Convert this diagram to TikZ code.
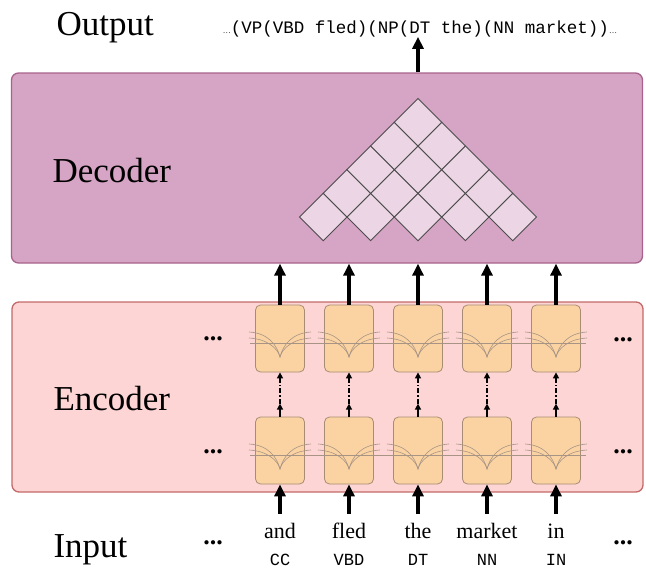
\documentclass[tikz,border=0pt]{standalone}
\usepackage{fontspec}
\setmainfont{Liberation Serif}
\setmonofont{Liberation Mono}
\usetikzlibrary{arrows.meta}

\definecolor{decfill}{HTML}{D6A4C4}
\definecolor{decline}{HTML}{A8628C}
\definecolor{encfill}{HTML}{FDD5D4}
\definecolor{encline}{HTML}{C46A6A}
\definecolor{cellfill}{HTML}{FBD3A2}
\definecolor{cellline}{HTML}{A88C74}
\definecolor{chartfill}{HTML}{ECD6E5}
\definecolor{wire}{HTML}{A89484}

\tikzset{
	block/.style={rounded corners=7pt, line width=1.3pt, minimum width=631pt, minimum height=190pt},
	cell/.style={draw=cellline, fill=cellfill, rounded corners=5pt, line width=0.8pt,
		minimum width=49pt, minimum height=67pt, inner sep=0pt},
	bigarr/.style={line width=3.5pt, -{Triangle[length=12pt,width=11pt]}},
	linkarr/.style={line width=1.8pt, -{Triangle[length=6pt,width=6pt]}},
	title/.style={font=\fontsize{35}{35}\selectfont, anchor=base west},
	word/.style={font=\fontsize{22}{22}\selectfont, anchor=base, text height=15pt, text depth=0pt, inner sep=2pt},
	tag/.style={font=\ttfamily\fontsize{17}{17}\selectfont, anchor=base},
	more/.style={font=\bfseries\fontsize{26}{26}\selectfont, inner sep=0pt},
	wirestyle/.style={draw=wire, line width=0.6pt},
}

\begin{document}
\begin{tikzpicture}[x=1pt,y=-1pt]
		\useasboundingbox (0,0) rectangle (646,570);
		% the two blocks
		\node[block, fill=decfill, draw=decline] (dec) at (327,168) {};
		\node[block, fill=encfill, draw=encline] (enc) at (327.5,397) {};
		\node[title] (tout) at (53,35) {Output};
		\node[title] (tdec) at (49,182) {Decoder};
		\node[title] (tenc) at (50,410) {Encoder};
		\node[title] (tin) at (50,557) {Input};
		\node[font=\ttfamily\fontsize{17.5}{17.5}\selectfont, anchor=base, inner sep=0pt] (out) at (420,33)
		{{\rmfamily\fontsize{8}{8}\selectfont\ldots}(VP(VBD fled)(NP(DT the)(NN market)){\rmfamily\fontsize{8}{8}\selectfont\ldots}};
		% chart in the decoder
		\foreach \r in {0,...,4}
		{
			\pgfmathtruncatemacro\n{4-\r}
			\foreach \i in {0,...,\n}
			{
				\draw[fill=chartfill, draw=black!70, line width=0.9pt]
				({418+(2*\i-4+\r)*23.7-23.7},{217-\r*23.7}) --++(23.7,-23.7)--++(23.7,23.7)
				--++(-23.7,23.7)-- cycle;
			}
		}
		% encoder cells and words
		\foreach \x/\w/\t [count=\i] in {280/and/CC,349/fled/VBD,418/the/DT,487/market/NN,556/in/IN}
		{
			\node[cell] (up\i) at (\x,338.5) {};
			\node[cell] (lo\i) at (\x,450.5) {};
			\node[word] (w\i) at (\x,538) {\w};
			\node[tag] (t\i) at (\x,565) {\t};
		}
		\foreach \T in {305,417}
		{
			\draw[wirestyle] (250,\T+38)--(586,\T+38);
			\foreach \x in {280,349,418,487,556}
			{
				\draw[wirestyle] (\x-31,\T+27) .. controls (\x-12,\T+28) and (\x-3,\T+40) .. (\x,\T+52)
				.. controls (\x+3,\T+40) and (\x+12,\T+28) .. (\x+31,\T+27);
				\draw[wirestyle] (\x-31,\T+33) .. controls (\x-12,\T+34) and (\x-2,\T+44) .. (\x,\T+52)
				.. controls (\x+2,\T+44) and (\x+12,\T+34) .. (\x+31,\T+33);
			}
		}
		% arrows
		\foreach \i in {1,...,5}
		{
			\coordinate (mid\i) at ([yshift=13pt]lo\i.north);
			\draw[bigarr] (up\i.north) -- (up\i.north |- dec.south);
			\draw[bigarr, shorten <=7pt] (w\i.north) -- (lo\i.south);
			\draw[linkarr] (lo\i.north) -- (mid\i);
			\draw[linkarr, dash pattern=on 5pt off 2pt on 1.5pt off 2pt] (mid\i) -- (up\i.south);
		}
		\draw[bigarr] (dec.north -| up3) -- (out.south -| up3);
		% dots
		\node[more] (ml1) at (213,339) {...};
		\node[more] (ml2) at (213,452) {...};
		\node[more] (ml3) at (213,543) {...};
		\node[more] (mr1) at (623,340) {...};
		\node[more] (mr2) at (623,452) {...};
		\node[more] (mr3) at (623,543) {...};
\end{tikzpicture}
\end{document}
